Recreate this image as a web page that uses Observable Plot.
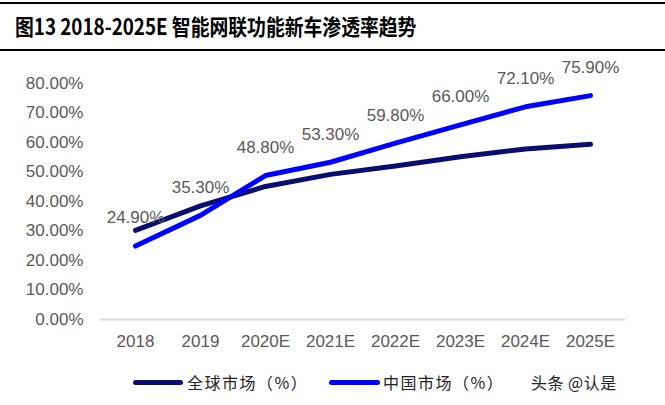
<!DOCTYPE html>
<html><head><meta charset="utf-8">
<script src="https://cdn.jsdelivr.net/npm/d3@7"></script>
<script src="https://cdn.jsdelivr.net/npm/@observablehq/plot@0.6"></script>
<style>
body{margin:0;background:#fff;width:665px;height:405px;overflow:hidden;font-family:"Liberation Sans",Arial,sans-serif;}
#title{box-sizing:border-box;height:49px;border-top:2.5px solid #000;border-bottom:2.5px solid #000;margin-top:2px;padding-left:15px;line-height:42px;font-family:"Noto Sans CJK SC",sans-serif;font-weight:bold;font-size:22px;color:#000;white-space:nowrap;}
#title span{display:inline-block;transform:scaleX(0.855);transform-origin:left center;}
#legend{position:relative;height:40px;font-family:"Noto Sans CJK SC",sans-serif;font-size:16px;color:#222;}
.sw{position:absolute;height:5px;border-radius:3px;top:21px;}
.lt{position:absolute;top:11px;letter-spacing:1.5px;}
</style></head><body>
<div id="title"><span>图13 2018-2025E 智能网联功能新车渗透率趋势</span></div>
<div id="chart"></div>
<div id="legend">
  <div class="sw" style="left:133px;width:50px;background:#0b0b70"></div>
  <div class="lt" style="left:187px">全球市场（%）</div>
  <div class="sw" style="left:329px;width:51px;background:#0000ff"></div>
  <div class="lt" style="left:383px">中国市场（%）</div>
  <div class="lt" style="left:531px;font-size:16px;letter-spacing:0.5px">头条 @认是</div>
</div>
<script>
const years = ["2018","2019","2020E","2021E","2022E","2023E","2024E","2025E"];
const globalValues = [30.2, 38.5, 45.1, 49.2, 52.0, 55.2, 57.8, 59.4];
const chinaValues = [24.9, 35.3, 48.8, 53.3, 59.8, 66.0, 72.1, 75.9];
const yTicks = [0,10,20,30,40,50,60,70,80];

const globalData = years.map((y,i)=>({year:y, value:globalValues[i]}));
const chinaData = years.map((y,i)=>({year:y, value:chinaValues[i]}));

const chart = Plot.plot({
  width:665,
  height:308,
  marginTop:32,
  marginBottom:40,
  marginLeft:100,
  marginRight:40,
  style:{fontFamily:"'Liberation Sans', Arial, sans-serif", fontSize:"17px", color:"#595959", background:"#fff"},
  x:{type:"point", domain:years, padding:0.5, label:null},
  y:{domain:[0,80], label:null},
  marks:[
    Plot.axisY({ticks:yTicks, tickSize:0, tickPadding:17, tickFormat:d=>d.toFixed(2)+"%", fill:"#595959", fontSize:17}),
    Plot.axisX({tickSize:0, tickPadding:15, fill:"#595959", fontSize:17}),
    Plot.ruleY([0], {stroke:"#d9d9d9", strokeWidth:2}),
    Plot.line(globalData, {x:"year", y:"value", stroke:"#0b0b70", strokeWidth:5, strokeLinecap:"round", strokeLinejoin:"round"}),
    Plot.line(chinaData, {x:"year", y:"value", stroke:"#0000ff", strokeWidth:5, strokeLinecap:"round", strokeLinejoin:"round"}),
    Plot.text(chinaData, {x:"year", y:"value", text:d=>d.value.toFixed(2)+"%", dy:-28, fill:"#595959", fontSize:17})
  ]
});
document.getElementById("chart").appendChild(chart);
</script>
</body></html>
